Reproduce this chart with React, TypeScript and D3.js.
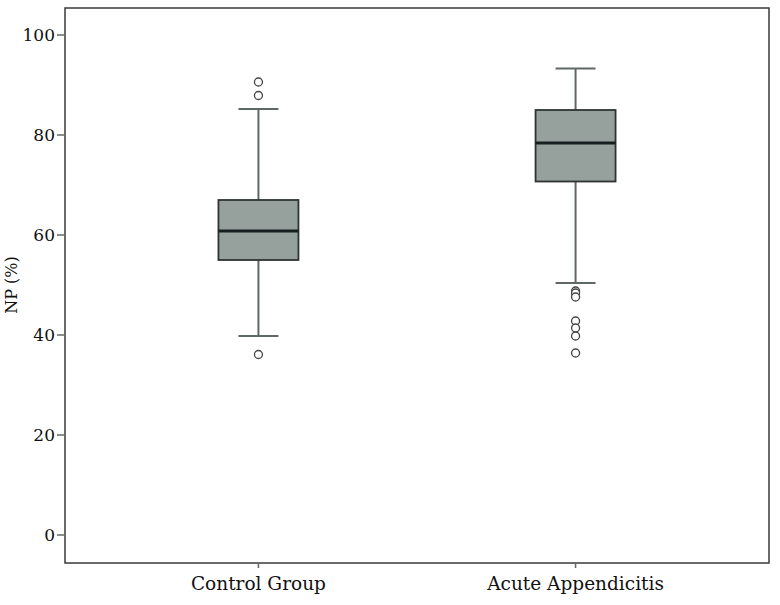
import React from "react";
import * as d3 from "d3";

const categories = ["Control Group", "Acute Appendicitis"];
const whiskerLow = [39.8, 50.4];
const q1 = [55.0, 70.7];
const median = [60.8, 78.4];
const q3 = [67.0, 85.0];
const whiskerHigh = [85.2, 93.3];
const outliers = [
  [90.6, 87.9, 36.1],
  [48.8, 48.4, 47.6, 42.8, 41.4, 39.8, 36.4],
];
const yTicks = [0, 20, 40, 60, 80, 100];

const W = 780, H = 605;
const left = 65, right = 769, top = 8, bottom = 563;

export default function App() {
  const y = d3.scaleLinear().domain([0, 100]).range([535, 35]);
  const x = d3.scalePoint().domain(categories).range([left, right]).padding(0.61);
  const boxW = 80;
  const capW = 40;
  const font = "'DejaVu Serif', serif";
  return (
    <svg width={W} height={H} style={{ position: "absolute", left: 0, top: 0, background: "#fff" }}>
      <rect x={left} y={top} width={right - left} height={bottom - top} fill="none" stroke="#3a3a3a" strokeWidth={1.5} />
      {yTicks.map((t) => (
        <g key={t}>
          <line x1={left - 8} x2={left} y1={y(t)} y2={y(t)} stroke="#5f6866" strokeWidth={1.5} />
          <text x={left - 10} y={y(t)} dy="0.36em" textAnchor="end" fontFamily={font} fontSize={17} fill="#111">{t}</text>
        </g>
      ))}
      {categories.map((c) => (
        <g key={c}>
          <line x1={x(c)} x2={x(c)} y1={bottom} y2={bottom + 5} stroke="#5f6866" strokeWidth={1.5} />
          <text x={x(c)} y={590} textAnchor="middle" fontFamily={font} fontSize={18.5} fill="#111">{c}</text>
        </g>
      ))}
      <text transform={`translate(17,${y(50)}) rotate(-90)`} textAnchor="middle" fontFamily={font} fontSize={16} fill="#111">NP (%)</text>
      {categories.map((c, i) => {
        const cx = x(c)!;
        return (
          <g key={c}>
            <line x1={cx} x2={cx} y1={y(whiskerHigh[i])} y2={y(q3[i])} stroke="#5f6866" strokeWidth={2} />
            <line x1={cx} x2={cx} y1={y(q1[i])} y2={y(whiskerLow[i])} stroke="#5f6866" strokeWidth={2} />
            <line x1={cx - capW / 2} x2={cx + capW / 2} y1={y(whiskerHigh[i])} y2={y(whiskerHigh[i])} stroke="#5f6866" strokeWidth={2} />
            <line x1={cx - capW / 2} x2={cx + capW / 2} y1={y(whiskerLow[i])} y2={y(whiskerLow[i])} stroke="#5f6866" strokeWidth={2} />
            <rect x={cx - boxW / 2} y={y(q3[i])} width={boxW} height={y(q1[i]) - y(q3[i])} fill="#96a19e" stroke="#2e3432" strokeWidth={1.8} />
            <line x1={cx - boxW / 2} x2={cx + boxW / 2} y1={y(median[i])} y2={y(median[i])} stroke="#17201e" strokeWidth={3} />
            {outliers[i].map((v, j) => (
              <circle key={j} cx={cx} cy={y(v)} r={4} fill="#fff" stroke="#444" strokeWidth={1.3} />
            ))}
          </g>
        );
      })}
    </svg>
  );
}
